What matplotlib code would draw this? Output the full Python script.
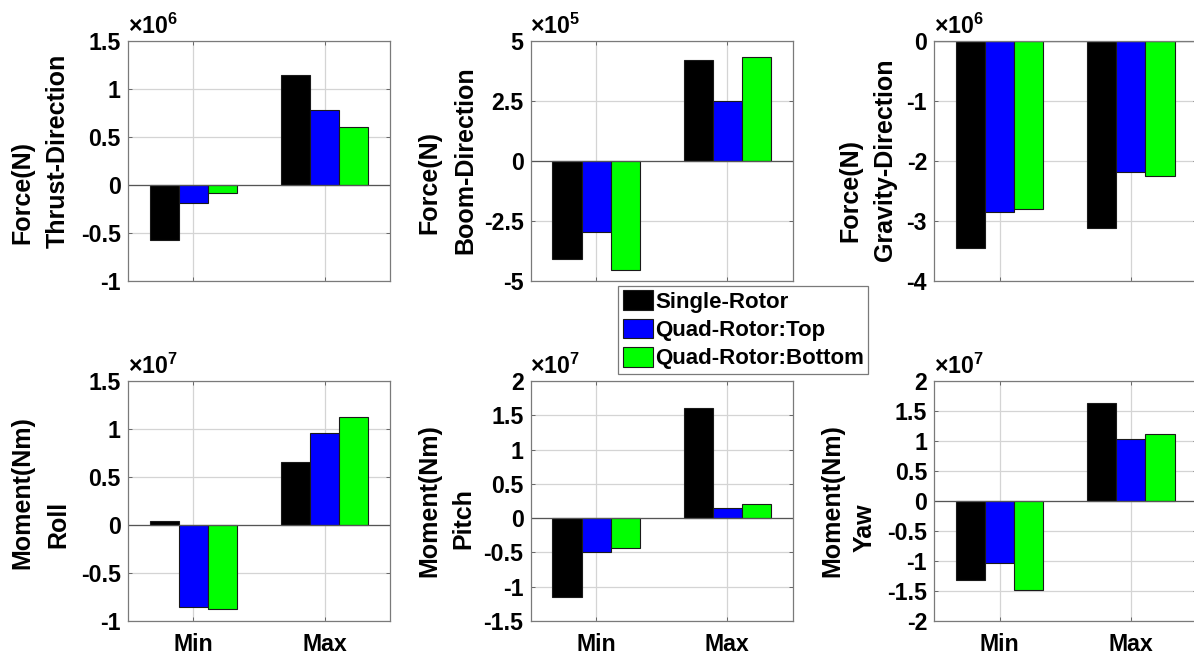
import numpy as np
import matplotlib.pyplot as plt
from matplotlib.ticker import FuncFormatter

plt.rcParams['font.family'] = ['Liberation Sans', 'DejaVu Sans']
plt.rcParams['font.weight'] = 'bold'
plt.rcParams['axes.unicode_minus'] = False
plt.rcParams['mathtext.fontset'] = 'custom'
plt.rcParams['mathtext.rm'] = 'Liberation Sans:bold'
plt.rcParams['mathtext.it'] = 'Liberation Sans:bold'

categories = ['Min', 'Max']
series = ['Single-Rotor', 'Quad-Rotor:Top', 'Quad-Rotor:Bottom']
colors = ['#000000', '#0000ff', '#00ff00']

# values in units of 10^exp, order: [Single, Quad Top, Quad Bottom] x [Min, Max]
thrust = [[-0.578, 1.142], [-0.188, 0.78], [-0.08, 0.609]]
boom = [[-4.07, 4.19], [-2.94, 2.48], [-4.53, 4.33]]
gravity = [[-3.45, -3.12], [-2.85, -2.19], [-2.80, -2.25]]
roll = [[0.038, 0.66], [-0.854, 0.96], [-0.879, 1.125]]
pitch = [[-1.145, 1.61], [-0.49, 0.146], [-0.43, 0.205]]
yaw = [[-1.31, 1.64], [-1.03, 1.04], [-1.48, 1.11]]

panels = [
    (thrust, 6, (-1, 1.5), [-1, -0.5, 0, 0.5, 1, 1.5], ('Force(N)', 'Thrust-Direction')),
    (boom, 5, (-5, 5), [-5, -2.5, 0, 2.5, 5], ('Force(N)', 'Boom-Direction')),
    (gravity, 6, (-4, 0), [-4, -3, -2, -1, 0], ('Force(N)', 'Gravity-Direction')),
    (roll, 7, (-1, 1.5), [-1, -0.5, 0, 0.5, 1, 1.5], ('Moment(Nm)', 'Roll')),
    (pitch, 7, (-1.5, 2), [-1.5, -1, -0.5, 0, 0.5, 1, 1.5, 2], ('Moment(Nm)', 'Pitch')),
    (yaw, 7, (-2, 2), [-2, -1.5, -1, -0.5, 0, 0.5, 1, 1.5, 2], ('Moment(Nm)', 'Yaw')),
]

W, H = 1194, 658
fig = plt.figure(figsize=(W / 100, H / 100), dpi=100)

# axes boxes in pixels (left, top)
lefts = [127.7, 530.5, 934]
tops = [41, 381]
aw, ah = 262.5, 240

# label line centres in pixels: (x1, y1, x2, y2)
label_pos = [
    (22, 192, 58, 151), (429, 182, 465, 160), (850, 191, 885, 160),
    (22, 493, 58, 524), (429, 501, 463, 519), (832, 501, 865, 528),
]

x = np.arange(1, len(categories) + 1)
bw = 0.222
fmt = FuncFormatter(lambda v, p: '%g' % v)

handles = []
for i, (vals, ex, ylim, yt, lab) in enumerate(panels):
    r, c = divmod(i, 3)
    ax = fig.add_axes([lefts[c] / W, 1 - (tops[r] + ah) / H, aw / W, ah / H])
    ax.set_axisbelow(True)
    ax.grid(True, color='#d4d4d4', lw=0.9)
    for k in range(3):
        b = ax.bar(x + (k - 1) * bw, vals[k], width=bw, color=colors[k],
                   edgecolor='#1a1a1a', lw=0.8, label=series[k])
        if i == 0:
            handles.append(b)
    ax.axhline(0, color='#555555', lw=0.9, zorder=1.5)
    ax.set_xlim(0.5, 2.5)
    ax.set_ylim(*ylim)
    ax.set_yticks(yt)
    ax.yaxis.set_major_formatter(fmt)
    ax.set_xticks(x)
    if r == 1:
        ax.set_xticklabels(categories)
    else:
        ax.set_xticklabels([])
    ax.tick_params(direction='in', length=3, width=0.6, color='#555555',
                   labelsize=16.7, top=True, right=True, pad=5)
    ax.tick_params(axis='x', pad=8.5)
    for s in ax.spines.values():
        s.set_color('#7a7a7a')
        s.set_linewidth(0.9)
    ax.text(0.0, 1.01, r'$\times\mathregular{10^{%d}}$' % ex, transform=ax.transAxes,
            fontsize=16.7, ha='left', va='bottom')
    x1, y1, x2, y2 = label_pos[i]
    fig.text(x1 / W, 1 - y1 / H, lab[0], rotation=90, ha='center', va='center',
             fontsize=18)
    fig.text(x2 / W, 1 - y2 / H, lab[1], rotation=90, ha='center', va='center',
             fontsize=18)

leg = fig.legend(handles, series, loc='upper left',
                 bbox_to_anchor=(618.3 / W, 1 - 286 / H), borderaxespad=0,
                 fontsize=16, handlelength=1.35, handleheight=1.0,
                 handletextpad=0.1, labelspacing=0.25, borderpad=0.2,
                 fancybox=False, framealpha=1, edgecolor='#7a7a7a')
leg.get_frame().set_linewidth(0.9)

fig.savefig('out.png', dpi=100)
